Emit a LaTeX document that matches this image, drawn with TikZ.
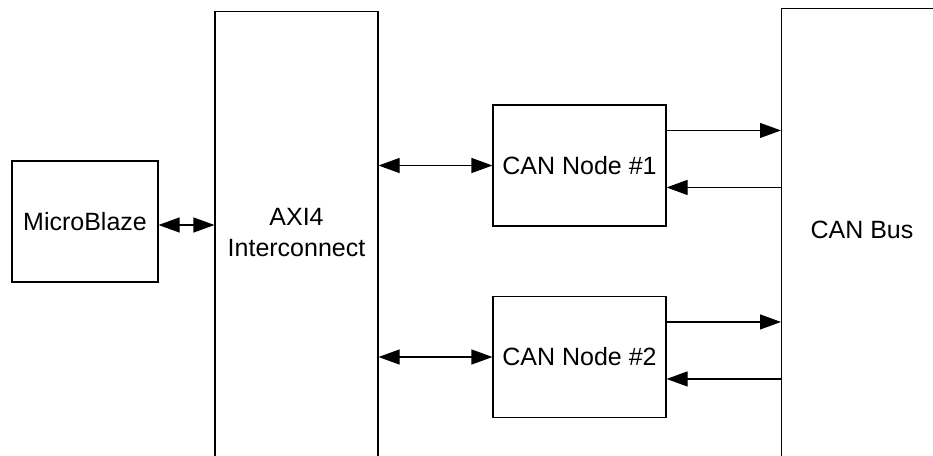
\documentclass[tikz,border=0pt]{standalone}
\usepackage{fontspec}
\setmainfont{Liberation Sans}
\usetikzlibrary{positioning,arrows.meta}

\begin{document}
\begin{tikzpicture}[x=1pt,y=-1pt,
    every node/.style={font=\fontsize{25pt}{31pt}\selectfont},
    blok/.style={draw, line width=1.1pt, inner sep=0pt},
    pijl/.style={line width=1.1pt, {Triangle[length=21pt,width=15pt]}-{Triangle[length=21pt,width=15pt]}},
    tah/.style={line width=1.1pt, -{Triangle[length=21pt,width=15pt]}}]
  \useasboundingbox (0,0) rectangle (933,455);
  \clip (0,0) rectangle (933,455);

  % Procesor
  \node[blok, minimum width=146pt, minimum height=121pt] (mb) at (85,221.5) {MicroBlaze};

  % Sběrnice AXI4 - spodek je mimo obrázek
  \node[blok, minimum width=163pt, minimum height=520pt, anchor=north] (axi) at (296.5,11) {};
  \node[align=center] (axitxt) at (296.5,233) {AXI4\\Interconnect};

  % Dva CAN uzly
  \node[blok, minimum width=173pt, minimum height=121pt] (n1) at (579.5,165.5) {CAN Node \#1};
  \node[blok, minimum width=173pt, minimum height=121pt] (n2) at (579.5,357) {CAN Node \#2};

  % CAN sběrnice - vpravo a dole oříznutá
  \node[blok, minimum width=250pt, minimum height=520pt, anchor=north west] (bus) at (781,8) {};
  \node (bustxt) at (862,230) {CAN Bus};

  % Spojení
  \coordinate (mbr) at ([yshift=-3.5pt]mb.east);
  \draw[pijl] (mbr) -- (mbr -| axi.west);
  \draw[pijl] (n1.west -| axi.east) -- (n1.west);
  \draw[pijl] (n2.west -| axi.east) -- (n2.west);

  \coordinate (n1tx) at ([yshift=-26pt]n1.north east);
  \coordinate (n1rx) at ([yshift=-83pt]n1.north east);
  \coordinate (n2tx) at ([yshift=-26pt]n2.north east);
  \coordinate (n2rx) at ([yshift=-83pt]n2.north east);
  \draw[tah] (n1tx) -- (n1tx -| bus.west);
  \draw[tah] (n1rx -| bus.west) -- (n1rx);
  \draw[tah] (n2tx) -- (n2tx -| bus.west);
  \draw[tah] (n2rx -| bus.west) -- (n2rx);
\end{tikzpicture}
\end{document}
